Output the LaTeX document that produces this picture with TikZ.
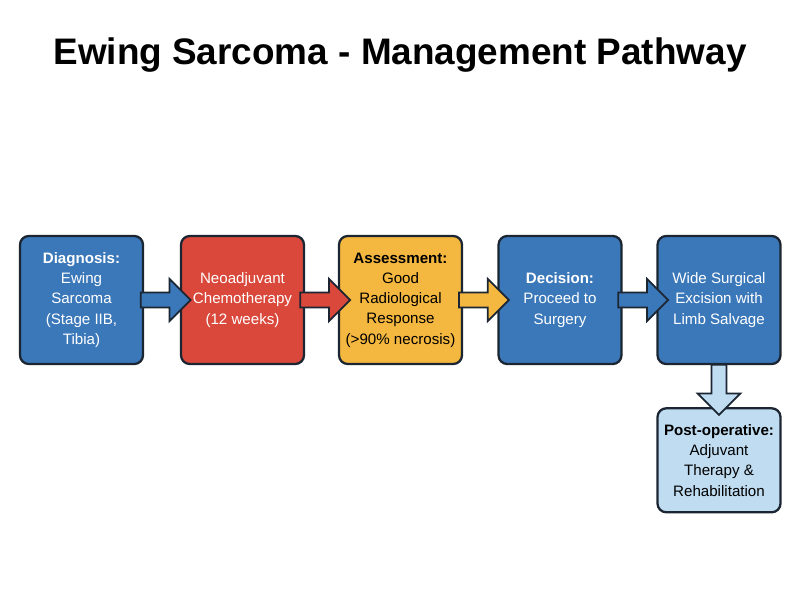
\documentclass[tikz,border=0pt]{standalone}
\usepackage{fontspec}
\setmainfont{Liberation Sans}
\usetikzlibrary{shapes.arrows,positioning,calc}
\definecolor{stepblue}{HTML}{3B78B9}
\definecolor{stepred}{HTML}{D9483B}
\definecolor{stepgold}{HTML}{F4B740}
\definecolor{steplight}{HTML}{BFDCF1}
\definecolor{edge}{HTML}{1C2633}
\tikzset{%
  % boxes of the pathway
     pathbox/.style = {rectangle, rounded corners=5pt, draw=edge, line width=1.3pt,
                       minimum width=2.46cm, minimum height=2.56cm,
                       align=center, font=\fontsize{8.6}{11.5}\selectfont, inner sep=1pt},
    bluestep/.style = {pathbox, fill=stepblue, text=white},
     redstep/.style = {pathbox, fill=stepred, text=white},
    goldstep/.style = {pathbox, fill=stepgold, text=black},
   lightstep/.style = {pathbox, fill=steplight, text=black, minimum height=2.08cm},
  % block arrows between boxes
        flow/.style = {single arrow, draw=edge, line width=1pt, minimum height=1cm,
                       single arrow head extend=0.22cm, inner sep=0.1cm, minimum width=0.85cm},
}
\begin{document}
\begin{tikzpicture}
  \useasboundingbox (0,0) rectangle (16,12);
  \node (title) at (8,10.9) {\fontsize{21}{24}\selectfont\bfseries Ewing Sarcoma - Management Pathway};

  \node (diag)   [bluestep] at (1.63,6)  {\textbf{Diagnosis:}\\Ewing\\Sarcoma\\(Stage IIB,\\Tibia)};
  \node (chemo)  [redstep]  at (4.85,6)  {Neoadjuvant\\Chemotherapy\\(12 weeks)};
  \node (assess) [goldstep] at (8.01,6)  {\textbf{Assessment:}\\Good\\Radiological\\Response\\(>90\% necrosis)};
  \node (decide) [bluestep] at (11.2,6)  {\textbf{Decision:}\\Proceed to\\Surgery};
  \node (excise) [bluestep] at (14.38,6) {Wide Surgical\\Excision with\\Limb Salvage};
  \node (postop) [lightstep, below=0.84cm of excise] {\textbf{Post-operative:}\\Adjuvant\\Therapy \&\\Rehabilitation};

  \node [flow, fill=stepblue] at ($(diag.east)!0.5!(chemo.west)$) {};
  \node [flow, fill=stepred] at ($(chemo.east)!0.5!(assess.west)$) {};
  \node [flow, fill=stepgold] at ($(assess.east)!0.5!(decide.west)$) {};
  \node [flow, fill=stepblue] at ($(decide.east)!0.5!(excise.west)$) {};
  \node [flow, fill=steplight, shape border rotate=270] at ($(excise.south)!0.5!(postop.north)$) {};
\end{tikzpicture}
\end{document}
